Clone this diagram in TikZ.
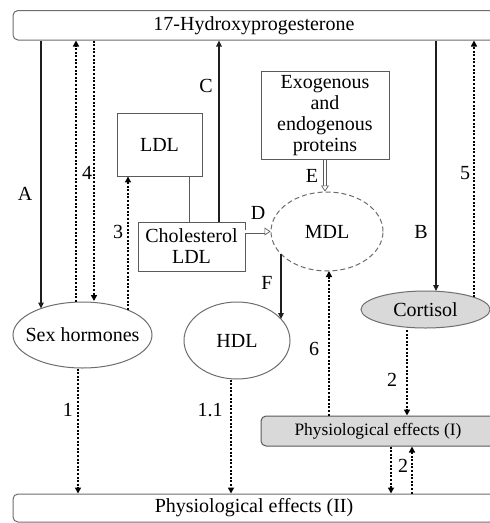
\documentclass[tikz,border=0pt]{standalone}
\usepackage{fontspec}
\setmainfont{Liberation Serif}
\usetikzlibrary{arrows.meta,shapes.geometric}
\definecolor{edgegray}{HTML}{6E6E6E}
\definecolor{boxgray}{HTML}{5A5A5A}
\definecolor{fillgray}{HTML}{D9D9D9}
\definecolor{ink}{HTML}{1E1E1E}
\begin{document}
\begin{tikzpicture}[x=1pt,y=-1pt,
  font=\fontsize{20}{21}\selectfont,
  bigbox/.style={draw=edgegray, line width=1pt, rounded corners=5pt, inner sep=0pt},
  sqbox/.style={draw=boxgray, line width=0.9pt, inner sep=0pt, align=center},
  oval/.style={ellipse, draw=edgegray, line width=1pt, inner sep=0pt},
  lbl/.style={inner sep=0pt},
  solidarrow/.style={draw=ink, line width=1.2pt, -{Triangle[length=6pt,width=5.5pt]}},
  plainline/.style={draw=boxgray, line width=1pt},
  dotarrow/.style={draw=black, line width=2.1pt, dash pattern=on 2pt off 1.6pt, -{Triangle[length=6pt,width=6pt]}},
  dblarrow/.style={draw=boxgray, line width=0.7pt, double=white, double distance=2.6pt, -{Triangle[open,length=6pt,width=8pt]}}
]
\clip (0,0) rectangle (490,523);
\fill[white] (0,0) rectangle (490,523);

% frames
\node[bigbox, minimum width=482, minimum height=29.5] (top) at (254,25.25) {17-Hydroxyprogesterone};
\node[bigbox, minimum width=482, minimum height=28] (phys2) at (254,508) {Physiological effects (II)};
\node[bigbox, draw=boxgray, fill=fillgray, minimum width=234, minimum height=30, font=\fontsize{17.4}{19}\selectfont] (phys1) at (378,431) {Physiological effects (I)};

\node[sqbox, minimum width=85, minimum height=63] (ldl) at (159.5,144.5) {LDL};
\node[sqbox, minimum width=107, minimum height=49] (chol) at (191.5,246.5) {Cholesterol\\LDL};
\node[sqbox, minimum width=128, minimum height=88] (exo) at (325,115.5) {Exogenous\\and\\endogenous\\proteins};

\node[oval, minimum width=139, minimum height=66, label=center:Sex hormones] (sex) at (82.5,335) {};
\node[oval, minimum width=106, minimum height=77, label=center:HDL] (hdl) at (237,340.5) {};
\node[oval, dashed, dash pattern=on 5pt off 3pt, minimum width=112, minimum height=79, label=center:MDL] (mdl) at (327,231.5) {};
\node[oval, fill=fillgray, minimum width=129, minimum height=37, label=center:Cortisol] (cort) at (425.5,309.5) {};

% endpoint coordinates
\coordinate (pA) at (41,308.5);
\coordinate (pUp) at (76,302);
\coordinate (p4) at (94,301);
\coordinate (p3) at (128,310);
\coordinate (xL) at (189,0);
\coordinate (xC) at (219,0);
\coordinate (pF1) at (281,254);
\coordinate (pF2) at (281,319);
\coordinate (pB) at (436,291);
\coordinate (p5) at (474,297.3);
\coordinate (p2) at (407,330);
\coordinate (p6) at (329,271);
\coordinate (xD) at (391,0);
\coordinate (xU) at (412,0);
\coordinate (p1) at (78,368.5);
\coordinate (p11) at (231,379.5);

% connectors
\draw[solidarrow] (top.south -| pA) -- (pA);
\draw[dotarrow] (pUp) -- (top.south -| pUp);
\draw[dotarrow] (top.south -| p4) -- (p4);
\draw[dotarrow] (p3) -- (p3 |- ldl.south);
\draw[plainline] (ldl.south -| xL) -- (chol.north -| xL);
\draw[solidarrow] (chol.north -| xC) -- (top.south -| xC);
\draw[dblarrow] (mdl.west -| chol.east) -- (mdl.west);
\draw[dblarrow] (exo.south) -- (exo.south |- mdl.north);
\draw[solidarrow] (pF1) -- (pF2);
\draw[solidarrow] (top.south -| pB) -- (pB);
\draw[dotarrow] (p5) -- (top.south -| p5);
\draw[dotarrow] (p2) -- (p2 |- phys1.north);
\draw[dotarrow] (phys1.north -| p6) -- (p6);
\draw[dotarrow] (phys1.south -| xD) -- (phys2.north -| xD);
\draw[dotarrow] (phys2.north -| xU) -- (phys1.south -| xU);
\draw[dotarrow] (p1) -- (p1 |- phys2.north);
\draw[dotarrow] (p11) -- (p11 |- phys2.north);

% labels
\node[lbl] (lA) at (25,194) {A};
\node[lbl] (l4) at (87,173) {4};
\node[lbl] (l3) at (118,232) {3};
\node[lbl] (lC) at (206,86) {C};
\node[lbl] (lD) at (258,213) {D};
\node[lbl] (lE) at (312,176) {E};
\node[lbl] (lF) at (267,283) {F};
\node[lbl] (lB) at (421,232) {B};
\node[lbl] (l5) at (465,173) {5};
\node[lbl] (l6) at (314,349) {6};
\node[lbl] (l2a) at (392,380) {2};
\node[lbl] (l2b) at (403,466) {2};
\node[lbl] (l1) at (68,410) {1};
\node[lbl] (l11) at (210,410) {1.1};
\end{tikzpicture}
\end{document}
